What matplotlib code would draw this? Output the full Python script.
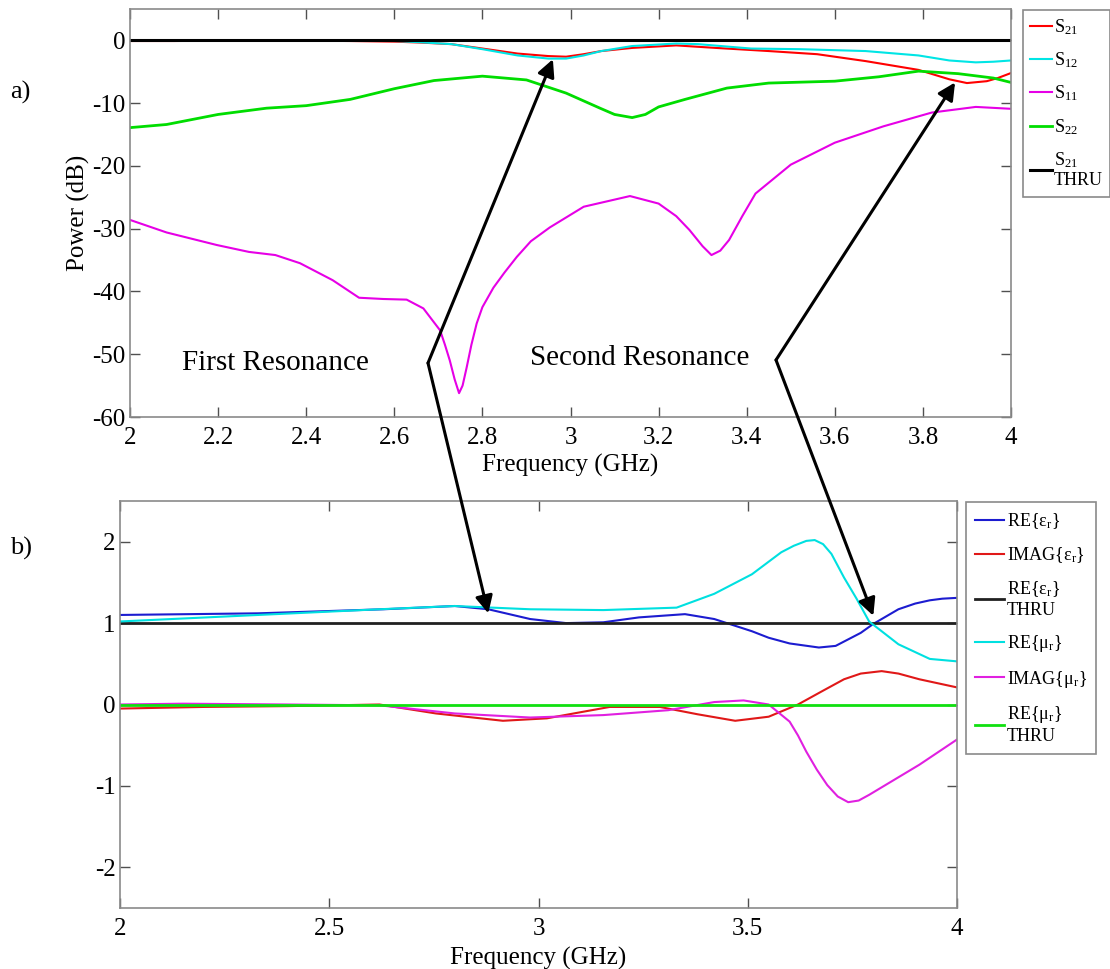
import matplotlib
matplotlib.use("Agg")
import matplotlib.pyplot as plt

plt.rcParams['font.family'] = ['Liberation Serif', 'DejaVu Serif']
plt.rcParams['mathtext.fontset'] = 'custom'
plt.rcParams['mathtext.rm'] = 'Liberation Serif'
plt.rcParams['mathtext.it'] = 'Liberation Serif:italic'
plt.rcParams['mathtext.default'] = 'regular'
plt.rcParams['axes.unicode_minus'] = False

# ---------------- a) S-parameters (dB) ----------------
f_s21 = [2.0, 2.1, 2.2, 2.3, 2.4, 2.5, 2.6, 2.66, 2.73, 2.80, 2.88, 2.95, 2.99, 3.03, 3.07,
         3.14, 3.24, 3.33, 3.45, 3.56, 3.67, 3.79, 3.86, 3.90, 3.945, 3.97, 4.0]
s21 = [-0.1, -0.1, -0.05, -0.05, -0.05, -0.1, -0.2, -0.35, -0.6, -1.3, -2.1, -2.5, -2.6, -2.2, -1.7,
       -1.2, -0.8, -1.2, -1.7, -2.2, -3.3, -4.7, -6.2, -6.8, -6.5, -6.0, -5.2]

f_s12 = [2.0, 2.3, 2.6, 2.66, 2.73, 2.80, 2.88, 2.95, 2.99, 3.03, 3.07, 3.14, 3.24, 3.29,
         3.41, 3.52, 3.67, 3.79, 3.86, 3.92, 3.96, 4.0]
s12 = [0.0, 0.0, -0.1, -0.3, -0.6, -1.4, -2.4, -2.9, -2.9, -2.4, -1.7, -0.9, -0.5, -0.6,
       -1.3, -1.4, -1.7, -2.4, -3.2, -3.5, -3.4, -3.2]

f_s11 = [2.0, 2.083, 2.197, 2.27, 2.33, 2.386, 2.46, 2.52, 2.575, 2.628, 2.666, 2.704, 2.715,
         2.726, 2.737, 2.747, 2.755, 2.764, 2.775, 2.787, 2.80, 2.825, 2.85, 2.878, 2.91, 2.953,
         3.03, 3.135, 3.2, 3.24, 3.27, 3.30, 3.32, 3.34, 3.36, 3.39, 3.42,
         3.5, 3.6, 3.71, 3.82, 3.92, 4.0]
s11 = [-28.6, -30.6, -32.6, -33.7, -34.2, -35.5, -38.2, -41.0, -41.2, -41.3, -42.7, -46.2, -48.5,
       -51.0, -54.0, -56.2, -55.0, -52.2, -48.5, -45.1, -42.5, -39.4, -37.0, -34.5, -32.0, -29.8,
       -26.5, -24.8, -26.0, -28.0, -30.2, -32.8, -34.2, -33.5, -31.8, -28.0, -24.4,
       -19.8, -16.3, -13.7, -11.5, -10.6, -10.9]

f_s22 = [2.0, 2.083, 2.2, 2.31, 2.4, 2.5, 2.6, 2.69, 2.8, 2.9, 2.99, 3.067, 3.1, 3.14, 3.17,
         3.2, 3.26, 3.355, 3.45, 3.6, 3.7, 3.79, 3.88, 3.96, 4.0]
s22 = [-13.9, -13.4, -11.8, -10.8, -10.4, -9.4, -7.7, -6.4, -5.7, -6.3, -8.4, -10.8, -11.8, -12.3,
       -11.8, -10.6, -9.4, -7.6, -6.8, -6.5, -5.8, -4.9, -5.3, -6.0, -6.7]

f_thru = [2.0, 4.0]
s21_thru = [0.0, 0.0]

# ---------------- b) material parameters ----------------
f_re_eps = [2.0, 2.33, 2.63, 2.80, 2.88, 2.98, 3.066, 3.155, 3.24, 3.35, 3.42, 3.51, 3.55,
            3.60, 3.67, 3.71, 3.74, 3.77, 3.80, 3.83, 3.86, 3.90, 3.935, 3.965, 4.0]
re_eps = [1.10, 1.12, 1.17, 1.21, 1.17, 1.05, 1.00, 1.01, 1.07, 1.11, 1.05, 0.90, 0.82,
          0.75, 0.70, 0.72, 0.80, 0.88, 0.99, 1.08, 1.17, 1.24, 1.28, 1.30, 1.31]

f_im_eps = [2.0, 2.2, 2.4, 2.62, 2.755, 2.915, 3.02, 3.17, 3.29, 3.38, 3.47, 3.55, 3.62,
            3.68, 3.73, 3.77, 3.82, 3.86, 3.91, 4.0]
im_eps = [-0.05, -0.03, -0.02, 0.0, -0.11, -0.20, -0.17, -0.03, -0.03, -0.12, -0.20, -0.15, 0.0,
          0.17, 0.31, 0.38, 0.41, 0.38, 0.31, 0.21]

re_eps_thru = [1.0, 1.0]

f_re_mu = [2.0, 2.33, 2.62, 2.80, 2.98, 3.155, 3.33, 3.42, 3.51, 3.58, 3.61, 3.64, 3.66,
           3.68, 3.70, 3.73, 3.76, 3.79, 3.86, 3.935, 4.0]
re_mu = [1.02, 1.10, 1.17, 1.21, 1.17, 1.16, 1.19, 1.36, 1.60, 1.87, 1.95, 2.01, 2.02,
         1.97, 1.85, 1.56, 1.30, 1.02, 0.74, 0.56, 0.53]

f_im_mu = [2.0, 2.15, 2.4, 2.62, 2.80, 2.98, 3.155, 3.31, 3.42, 3.49, 3.55, 3.60, 3.62,
           3.64, 3.665, 3.69, 3.715, 3.74, 3.765, 3.79, 3.91, 4.0]
im_mu = [0.0, 0.01, 0.0, -0.01, -0.11, -0.16, -0.13, -0.07, 0.03, 0.05, 0.0, -0.21, -0.38,
         -0.58, -0.80, -0.99, -1.13, -1.20, -1.18, -1.11, -0.74, -0.43]

re_mu_thru = [0.0, 0.0]

W, H = 1110, 969
fig = plt.figure(figsize=(W / 100, H / 100), dpi=100)

ax1 = fig.add_axes([130 / W, 1 - 417 / H, (1011 - 130) / W, (417 - 9) / H])
ax2 = fig.add_axes([120 / W, 1 - 908 / H, (957 - 120) / W, (908 - 501) / H])

ax1.plot(f_s21, s21, color='#ff0000', lw=1.5, label='S$_{21}$')
ax1.plot(f_s12, s12, color='#00e5e5', lw=1.5, label='S$_{12}$')
ax1.plot(f_s11, s11, color='#e600e6', lw=1.5, label='S$_{11}$')
ax1.plot(f_s22, s22, color='#00dd00', lw=2.0, label='S$_{22}$')
ax1.plot(f_thru, s21_thru, color='black', lw=2.2, label='S$_{21}$\nTHRU')

ax2.plot(f_re_eps, re_eps, color='#1c1cd0', lw=1.5, label='RE{ε$_r$}')
ax2.plot(f_im_eps, im_eps, color='#e01818', lw=1.5, label='IMAG{ε$_r$}')
ax2.plot(f_thru, re_eps_thru, color='#202020', lw=2.0, label='RE{ε$_r$}\nTHRU')
ax2.plot(f_re_mu, re_mu, color='#00e0e0', lw=1.5, label='RE{μ$_r$}')
ax2.plot(f_im_mu, im_mu, color='#e020e0', lw=1.5, label='IMAG{μ$_r$}')
ax2.plot(f_thru, re_mu_thru, color='#10e010', lw=2.0, label='RE{μ$_r$}\nTHRU')

ax1.set_xlim(2, 4)
ax1.set_ylim(-60, 5)
ax1.set_xticks([2, 2.2, 2.4, 2.6, 2.8, 3, 3.2, 3.4, 3.6, 3.8, 4])
ax1.set_xticklabels(['2', '2.2', '2.4', '2.6', '2.8', '3', '3.2', '3.4', '3.6', '3.8', '4'])
ax1.set_yticks([-60, -50, -40, -30, -20, -10, 0])
ax1.set_xlabel('Frequency (GHz)', fontsize=18, labelpad=4)
ax1.set_ylabel('Power (dB)', fontsize=18, labelpad=2)

ax2.set_xlim(2, 4)
ax2.set_ylim(-2.5, 2.5)
ax2.set_xticks([2, 2.5, 3, 3.5, 4])
ax2.set_xticklabels(['2', '2.5', '3', '3.5', '4'])
ax2.set_yticks([-2, -1, 0, 1, 2])
ax2.set_xlabel('Frequency (GHz)', fontsize=18, labelpad=5)

for ax in (ax1, ax2):
    for sp in ax.spines.values():
        sp.set_color('#8a8a8a')
        sp.set_linewidth(1.2)
    ax.tick_params(direction='in', length=7, width=1, color='#505050',
                   labelsize=18, top=True, right=True, pad=3)
    ax.tick_params(axis='x', pad=7)

leg1 = ax1.legend(loc='upper left', bbox_to_anchor=(1023 / W, 1 - 10 / H),
                  bbox_transform=fig.transFigure, fontsize=13, fancybox=False,
                  edgecolor='#8a8a8a', framealpha=1, handlelength=1.2,
                  handletextpad=0.1, borderpad=0.4, labelspacing=0.75, borderaxespad=0)
leg1.get_frame().set_linewidth(1.2)
leg2 = ax2.legend(loc='upper left', bbox_to_anchor=(966 / W, 1 - 502 / H),
                  bbox_transform=fig.transFigure, fontsize=13, fancybox=False,
                  edgecolor='#8a8a8a', framealpha=1, handlelength=1.6,
                  handletextpad=0.15, borderpad=0.5, labelspacing=0.8, borderaxespad=0)
leg2.get_frame().set_linewidth(1.2)

# panel letters
fig.text(10 / W, 1 - 92 / H, 'a)', fontsize=19, va='center', ha='left')
fig.text(10 / W, 1 - 548 / H, 'b)', fontsize=19, va='center', ha='left')

# resonance annotations
ax1.text(275 / W, 1 - 363 / H, 'First Resonance', transform=fig.transFigure,
         fontsize=21, ha='center', va='center')
ax1.text(640 / W, 1 - 358 / H, 'Second Resonance', transform=fig.transFigure,
         fontsize=21, ha='center', va='center')

arrow = dict(arrowstyle='-|>', color='black', lw=2.2, mutation_scale=26,
             shrinkA=0, shrinkB=0)
pivot1 = (428, H - 363)
pivot2 = (776, H - 360)
ax1.annotate('', xy=(2.96, -3.0), xycoords=ax1.transData, xytext=pivot1,
             textcoords='figure pixels', arrowprops=arrow, annotation_clip=False)
ax2.annotate('', xy=(2.88, 1.12), xycoords=ax2.transData, xytext=pivot1,
             textcoords='figure pixels', arrowprops=arrow, annotation_clip=False)
ax1.annotate('', xy=(3.873, -6.7), xycoords=ax1.transData, xytext=pivot2,
             textcoords='figure pixels', arrowprops=arrow, annotation_clip=False)
ax2.annotate('', xy=(3.80, 1.09), xycoords=ax2.transData, xytext=pivot2,
             textcoords='figure pixels', arrowprops=arrow, annotation_clip=False)

fig.savefig('out.png', dpi=100)
